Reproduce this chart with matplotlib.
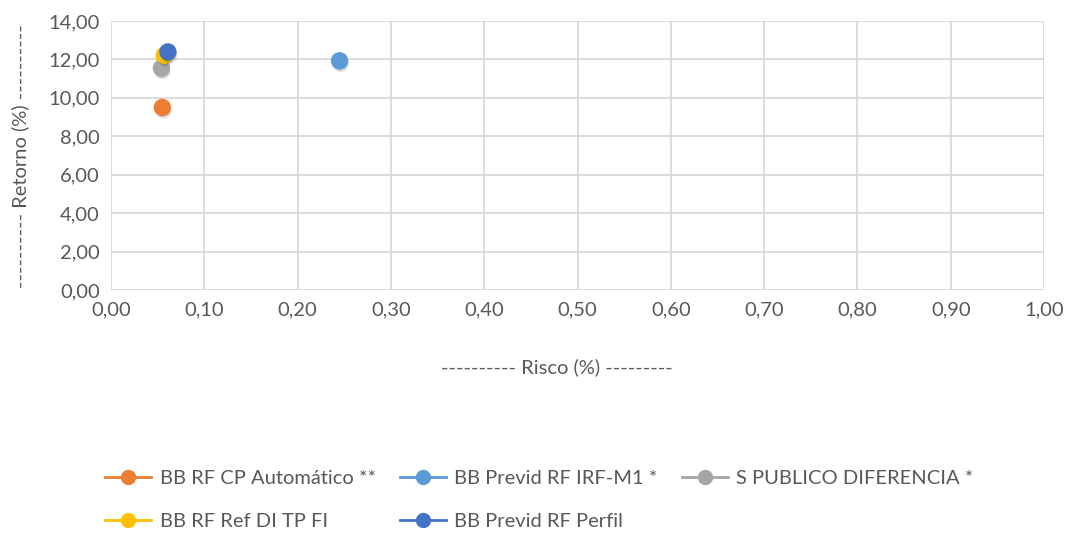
import matplotlib
matplotlib.use("Agg")
import matplotlib.pyplot as plt
import matplotlib.patheffects as pe
from matplotlib.lines import Line2D
from matplotlib.ticker import FuncFormatter

names = ["BB RF CP Automático **", "BB Previd RF IRF-M1 *", "S PUBLICO DIFERENCIA *",
         "BB RF Ref DI TP FI", "BB Previd RF Perfil"]
risco = [0.055, 0.245, 0.054, 0.057, 0.061]
retorno = [9.50, 11.93, 11.55, 12.22, 12.39]
colors = ["#ED7D31", "#5B9BD5", "#A5A5A5", "#FFC000", "#4472C4"]

plt.rcParams['font.family'] = ['Lato', 'DejaVu Sans']
txt = "#595959"

fig = plt.figure(figsize=(10.74, 5.35), dpi=100)
ax = fig.add_axes([111/1074, 1 - 290/535, (1044-111)/1074, (290-21)/535])

shadow = [pe.SimplePatchShadow(offset=(0.5, -1.5), shadow_rgbFace="black", alpha=0.12),
          pe.SimplePatchShadow(offset=(1, -2.5), shadow_rgbFace="black", alpha=0.08),
          pe.Normal()]
handles = []
for n, x, y, c in zip(names, risco, retorno, colors):
    ax.plot([x], [y], 'o', color=c, markersize=11.5, zorder=3, path_effects=shadow)
    handles.append(Line2D([0], [0], color=c, lw=2, marker='o', markersize=10, label=n))

ax.set_xlim(0, 1.0)
ax.set_ylim(0, 14)
ax.set_xticks([i/10 for i in range(11)])
ax.set_yticks(range(0, 15, 2))
fmt = FuncFormatter(lambda v, p: f"{v:.2f}".replace(".", ","))
ax.xaxis.set_major_formatter(fmt)
ax.yaxis.set_major_formatter(fmt)
ax.grid(True, color="#d9d9d9", lw=1.3)
ax.set_axisbelow(True)
for s in ax.spines.values():
    s.set_visible(False)
ax.tick_params(length=0, labelsize=14.5, labelcolor=txt, pad=8)

fig.text(557/1074, 1 - 367/535, "---------- Risco (%) ---------", ha="center", va="center",
         fontsize=14.5, color=txt)
fig.text(20/1074, 1 - 156/535, "---------- Retorno (%) ----------", ha="center", va="center",
         rotation=90, fontsize=14.5, color=txt)

order = [0, 3, 1, 4, 2]
leg = fig.legend([handles[i] for i in order], [names[i] for i in order], ncol=3,
                 loc="center left", bbox_to_anchor=(87/1074, 1 - 500/535), frameon=False,
                 fontsize=14.5, labelcolor=txt, handlelength=2.3, handletextpad=0.4,
                 columnspacing=1.2, labelspacing=1.3)

fig.savefig("out.png", dpi=100)
